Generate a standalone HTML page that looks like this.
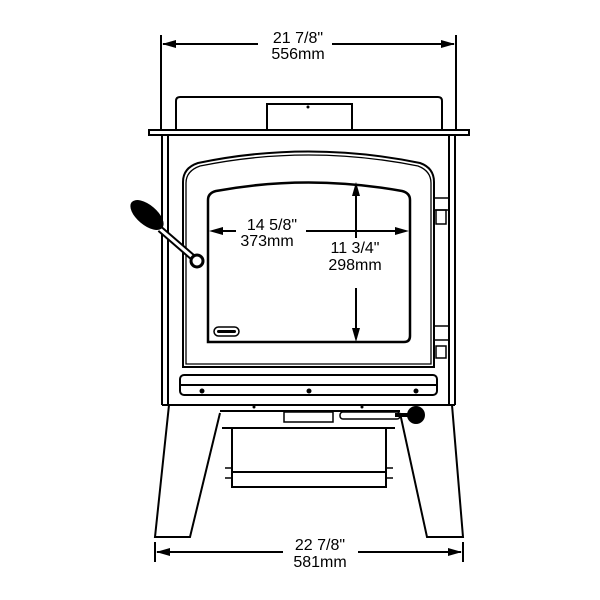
<!DOCTYPE html>
<html><head><style>body{margin:0;background:#fff}svg{display:block}text{font-family:"Liberation Sans",sans-serif;font-size:16px;fill:#000;text-anchor:middle}</style></head><body>
<svg width="600" height="600" viewBox="0 0 600 600" xmlns="http://www.w3.org/2000/svg">
<g fill="none" stroke="#000" stroke-width="2">
<line x1="161" y1="35" x2="161" y2="130"/><line x1="456" y1="35" x2="456" y2="130"/>
<line x1="163" y1="44" x2="258" y2="44"/><line x1="332" y1="44" x2="454" y2="44"/>
<path d="M176,130 V101 Q176,97 180,97 H438 Q442,97 442,101 V130"/>
<rect x="267" y="104" width="85" height="26"/>
<rect x="149" y="130" width="320" height="5"/>
<path d="M162,135 V405 M168,135 V405 M455,135 V405 M449,135 V405"/>
<line x1="162" y1="405" x2="455" y2="405"/>
<path d="M183,367 V182 Q183,168 198,163 Q308,140 420,163 Q434,168 434,182 V367 Z"/>
<path d="M186,364 V183 Q186,171 200,166 Q308,144 418,166 Q431,171 431,183 V364 Z" stroke-width="1.3"/>
<path d="M208,342 V200 Q208,193 216,191 Q308,174 402,191 Q410,193 410,200 V336 Q410,342 404,342 Z" stroke-width="2.5"/>
<rect x="214" y="327" width="25" height="9" rx="4.5" stroke-width="1.5"/>
<rect x="217" y="330" width="19" height="3" rx="1.5" fill="#000" stroke="none"/>
<rect x="434" y="198" width="15" height="12" stroke-width="1.5"/><rect x="436" y="210" width="10" height="14" stroke-width="1.5"/>
<rect x="434" y="326" width="15" height="14" stroke-width="1.5"/><rect x="436" y="346" width="10" height="12" stroke-width="1.5"/>
<rect x="180" y="375" width="257" height="20" rx="4"/>
<line x1="181" y1="385" x2="436" y2="385"/>
<path d="M169,405 L155,537 H190 L220,413"/>
<path d="M452,405 L463,537 H427 L400,413"/>
<path d="M220,411 H400 M222,428 H395"/>
<rect x="232" y="428" width="154" height="59"/>
<line x1="232" y1="472" x2="386" y2="472"/>
<path d="M225,468 H232 M225,478 H232 M386,468 H393 M386,478 H393" stroke-width="1.5"/>
<rect x="284" y="412" width="49" height="10" stroke-width="1.5"/>
<rect x="340" y="412" width="60" height="7" rx="3" stroke-width="1.5"/>
<line x1="356" y1="190" x2="356" y2="238"/><line x1="356" y1="288" x2="356" y2="334"/>
<line x1="216" y1="231" x2="236" y2="231"/><line x1="306" y1="231" x2="402" y2="231"/>
<line x1="155" y1="542" x2="155" y2="562"/><line x1="463" y1="542" x2="463" y2="562"/>
<line x1="157" y1="552" x2="283" y2="552"/><line x1="358" y1="552" x2="461" y2="552"/>
<line x1="160" y1="229" x2="197" y2="261" stroke-width="7"/>
<line x1="160" y1="229" x2="197" y2="261" stroke="#fff" stroke-width="3"/>
</g>
<g fill="#000">
<path d="M162,44 L176,40 L176,48Z"/><path d="M455,44 L441,40 L441,48Z"/>
<path d="M156,552 L170,548 L170,556Z"/><path d="M462,552 L448,548 L448,556Z"/>
<path d="M209,231 L223,227 L223,235Z"/><path d="M409,231 L395,227 L395,235Z"/>
<path d="M356,182 L352,196 L360,196Z"/><path d="M356,342 L352,328 L360,328Z"/>
</g>
<ellipse cx="147" cy="215" rx="20" ry="10" transform="rotate(40 147 215)" fill="#000"/>
<circle cx="197" cy="261" r="6" fill="#fff" stroke="#000" stroke-width="3"/>
<circle cx="416" cy="415" r="9" fill="#000"/>
<line x1="395" y1="415" x2="410" y2="415" stroke="#000" stroke-width="4"/>
<g fill="#000"><circle cx="202" cy="391" r="2.5"/><circle cx="309" cy="391" r="2.5"/><circle cx="416" cy="391" r="2.5"/><circle cx="308" cy="107" r="1.5"/><circle cx="254" cy="407" r="1.5"/><circle cx="362" cy="407" r="1.5"/></g>
<text x="298" y="43">21 7/8"</text><text x="298" y="59">556mm</text>
<text x="272" y="230">14 5/8"</text><text x="267" y="246">373mm</text>
<text x="355" y="253">11 3/4"</text><text x="355" y="270">298mm</text>
<text x="320" y="550">22 7/8"</text><text x="320" y="567">581mm</text>
</svg>
</body></html>
